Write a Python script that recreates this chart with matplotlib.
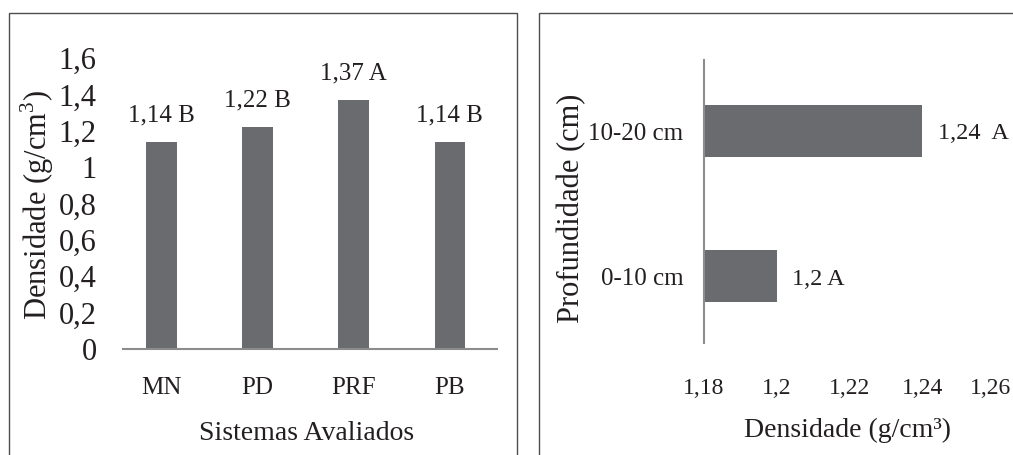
import matplotlib
matplotlib.use("Agg")
import matplotlib.pyplot as plt
from matplotlib.patches import Rectangle
from matplotlib.transforms import ScaledTranslation

plt.rcParams['font.family'] = ['Liberation Serif', 'DejaVu Serif']
plt.rcParams['mathtext.fontset'] = 'custom'
plt.rcParams['mathtext.rm'] = 'Liberation Serif'

# Left chart data
sistemas = ["MN", "PD", "PRF", "PB"]
densidade_sistemas = [1.14, 1.22, 1.37, 1.14]
rotulos_sistemas = ["1,14 B", "1,22 B", "1,37 A", "1,14 B"]
yticks_left = [0, 0.2, 0.4, 0.6, 0.8, 1.0, 1.2, 1.4, 1.6]
yticklabels_left = ["0", "0,2", "0,4", "0,6", "0,8", "1", "1,2", "1,4", "1,6"]

# Right chart data
profundidades = ["0-10 cm", "10-20 cm"]
densidade_prof = [1.20, 1.24]
rotulos_prof = ["1,2 A", "1,24  A"]
xticks_right = [1.18, 1.20, 1.22, 1.24, 1.26]
xticklabels_right = ["1,18", "1,2", "1,22", "1,24", "1,26"]

BAR = "#6a6b6f"
AXIS = "#8c8c8c"
TXT = "#231f20"

W, H = 1013, 455
fig = plt.figure(figsize=(W / 100, H / 100), dpi=100)
fig.patch.set_facecolor("white")

# Panel borders
fig.add_artist(Rectangle((9 / W, -0.05), (517 - 9) / W, 1 - 13 / H + 0.05,
                         transform=fig.transFigure, fill=False,
                         edgecolor="#4d4d4d", linewidth=1.0))
fig.add_artist(Rectangle((539 / W, -0.05), 0.5, 1 - 13 / H + 0.05,
                         transform=fig.transFigure, fill=False,
                         edgecolor="#4d4d4d", linewidth=1.0))

# ---------- Left chart ----------
ax1 = fig.add_axes([123 / W, (H - 349) / H, 374 / W, 291 / H])
x = list(range(len(sistemas)))
ax1.bar(x, densidade_sistemas, width=0.32, color=BAR, zorder=2)
ax1.set_xlim(-0.4, 3.49)
ax1.set_ylim(0, 1.6)
for s in ["top", "right", "left"]:
    ax1.spines[s].set_visible(False)
ax1.spines["bottom"].set_color(AXIS)
ax1.spines["bottom"].set_linewidth(1.5)
ax1.set_xticks(x)
ax1.set_xticklabels(sistemas)
ax1.set_yticks(yticks_left)
ax1.set_yticklabels(yticklabels_left)
ax1.tick_params(axis="y", length=0, pad=19, labelsize=22, labelcolor=TXT)
ax1.tick_params(axis="x", length=0, pad=20, labelsize=18, labelcolor=TXT)
for xi, v, lab in zip(x, densidade_sistemas, rotulos_sistemas):
    ax1.annotate(lab, (xi, v), xytext=(0, 11), textcoords="offset points",
                 ha="center", va="bottom", fontsize=18, color=TXT)
ax1.set_xlabel("Sistemas Avaliados", fontsize=20, color=TXT)
ax1.xaxis.label.set_va("center")
ax1.xaxis.set_label_coords(0.49, (349 - 433) / 291)
ax1.set_ylabel("Densidade (g/cm$^3$)", fontsize=22, color=TXT)
ax1.yaxis.label.set_va("center")
ax1.yaxis.set_label_coords((37 - 123) / 374, (349 - 205) / 291)

# ---------- Right chart ----------
ax2 = fig.add_axes([704 / W, (H - 343) / H, 291 / W, 283 / H])
y = list(range(len(profundidades)))
ax2.barh(y, [v - 1.18 for v in densidade_prof], left=1.18, height=0.36,
         color=BAR, zorder=2)
ax2.set_xlim(1.18, 1.26)
ax2.set_ylim(-0.46, 1.49)
for s in ["top", "right", "bottom"]:
    ax2.spines[s].set_visible(False)
ax2.spines["left"].set_color(AXIS)
ax2.spines["left"].set_linewidth(1.5)
ax2.set_yticks(y)
ax2.set_yticklabels(profundidades)
ax2.set_xticks(xticks_right)
ax2.set_xticklabels(xticklabels_right)
ax2.tick_params(axis="y", length=0, pad=15, labelsize=18, labelcolor=TXT)
ax2.tick_params(axis="x", length=0, pad=25, labelsize=17, labelcolor=TXT)
# keep the last tick label inside the figure edge
last = ax2.get_xticklabels()[-1]
last.set_transform(last.get_transform() + ScaledTranslation(-4 / 100, 0, fig.dpi_scale_trans))
for yi, v, lab in zip(y, densidade_prof, rotulos_prof):
    ax2.annotate(lab, (v, yi), xytext=(11, -2), textcoords="offset points",
                 ha="left", va="center", fontsize=17.5, color=TXT)
ax2.set_xlabel("Densidade (g/cm³)", fontsize=20, color=TXT)
ax2.xaxis.label.set_va("center")
ax2.xaxis.set_label_coords((847 - 704) / 291, (343 - 430) / 283)
ax2.set_ylabel("Profundidade (cm)", fontsize=22, color=TXT)
ax2.yaxis.label.set_va("center")
ax2.yaxis.set_label_coords((572 - 704) / 291, (343 - 208) / 283)

fig.savefig("out.png", dpi=100)
